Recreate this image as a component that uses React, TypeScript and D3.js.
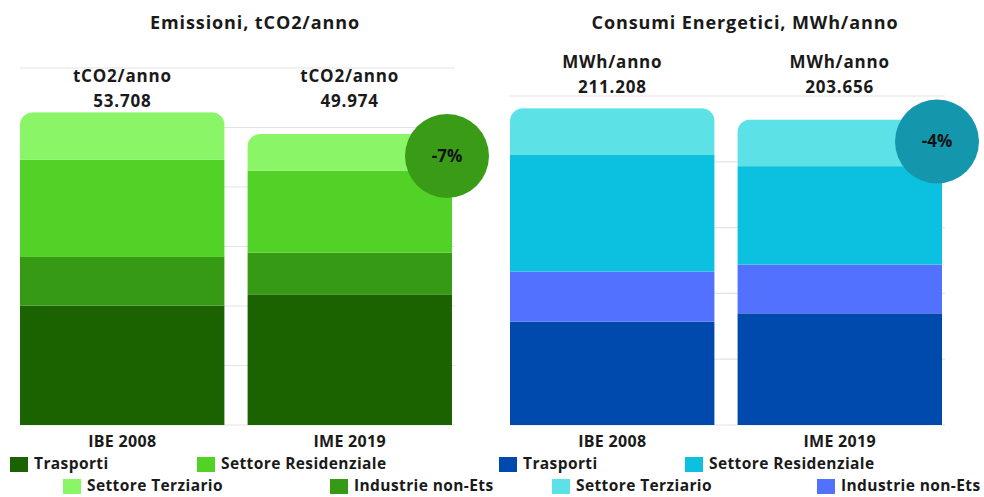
import * as d3 from 'd3'

// categories and series (bottom to top of each stack)
const categories = ['IBE 2008', 'IME 2019']
const sectors = ['Trasporti', 'Industrie non-Ets', 'Settore Residenziale', 'Settore Terziario']

const emissioniTotals = [53708, 49974]
const emissioniTrasporti = [20510, 22437]
const emissioniIndustrie = [8343, 7139]
const emissioniResidenziale = [16686, 14108]
const emissioniTerziario = [8169, 6290]

const consumiTotals = [211208, 203656]
const consumiTrasporti = [68872, 74425]
const consumiIndustrie = [33452, 32477]
const consumiResidenziale = [78055, 65630]
const consumiTerziario = [30829, 31124]

const greenColors = ['#1b6301', '#379a15', '#52d226', '#8af566']
const blueColors = ['#004aad', '#5271ff', '#0cc0df', '#5ce1e6']

const fmt = (v: number) => d3.format(',')(v).replace(/,/g, '.')

interface PanelProps {
    id: string
    title: string
    titleX: number
    unit: string
    totals: number[]
    series: number[][]
    colors: string[]
    x0: number
    x1: number
    top: number
    yMax: number
    gridCount: number
    unitY: number
    badge: string
    badgeColor: string
    legendPos: { x: number; y: number; order: number }[]
}

const FONT = "'Open Sans', 'DejaVu Sans', sans-serif"
const bottom = 425

const Panel = (p: PanelProps) => {
    const x = d3.scaleBand<string>().domain(categories).range([p.x0, p.x1]).paddingInner(0.1).paddingOuter(0)
    const y = d3.scaleLinear().domain([0, p.yMax]).range([bottom, p.top])
    const rows = categories.map((c, i) => {
        const r: Record<string, number | string> = { cat: c }
        sectors.forEach((s, j) => (r[s] = p.series[j][i]))
        return r
    })
    const stacked = d3.stack<Record<string, number | string>>().keys(sectors)(rows as any)
    const grid = d3.range(0, p.gridCount + 1).map(i => (p.yMax * i) / p.gridCount)
    const bw = x.bandwidth()
    const last = categories[categories.length - 1]
    const lastTop = y(p.totals[p.totals.length - 1])

    return (
        <g>
            <defs>
                {categories.map((c, i) => (
                    <clipPath id={`${p.id}-clip-${i}`} key={c}>
                        <rect x={x(c)} y={y(p.totals[i])} width={bw} height={bottom - y(p.totals[i]) + 20} rx={13} />
                    </clipPath>
                ))}
            </defs>
            <text x={p.titleX} y={29} textAnchor="middle" fontFamily={FONT} fontWeight={700} fontSize={18} letterSpacing={0.9} fill="#1a1a1a">
                {p.title}
            </text>
            {grid.map(g => (
                <line key={g} x1={p.x0} x2={p.x1 + 3} y1={y(g)} y2={y(g)} stroke="#e3e3e3" strokeWidth={1.2} />
            ))}
            {categories.map((c, i) => (
                <g key={c} clipPath={`url(#${p.id}-clip-${i})`}>
                    {stacked.map((layer, j) => (
                        <rect
                            key={layer.key}
                            x={x(c)}
                            y={y(layer[i][1])}
                            width={bw}
                            height={y(layer[i][0]) - y(layer[i][1])}
                            fill={p.colors[j]}
                        />
                    ))}
                </g>
            ))}
            {categories.map((c, i) => (
                <g key={c} fontFamily={FONT} fontWeight={700} fontSize={17} letterSpacing={0.8} fill="#1a1a1a" textAnchor="middle">
                    <text x={(x(c) as number) + bw / 2} y={p.unitY}>{p.unit}</text>
                    <text x={(x(c) as number) + bw / 2} y={p.unitY + 25}>{fmt(p.totals[i])}</text>
                    <text x={(x(c) as number) + bw / 2} y={447} fontSize={16} letterSpacing={0.3}>{c}</text>
                </g>
            ))}
            <circle cx={(x(last) as number) + bw - 5} cy={lastTop + 22} r={42} fill={p.badgeColor} />
            <text
                x={(x(last) as number) + bw - 5}
                y={lastTop + 28}
                textAnchor="middle"
                fontFamily={FONT}
                fontWeight={700}
                fontSize={17}
                fill="#111"
            >
                {p.badge}
            </text>
            {p.legendPos.map(l => (
                <g key={l.order}>
                    <rect x={l.x} y={l.y - 12} width={18} height={15} fill={p.colors[l.order]} />
                    <text x={l.x + 24} y={l.y} fontFamily={FONT} fontWeight={700} fontSize={15.5} letterSpacing={0.4} fill="#1a1a1a">
                        {sectors[l.order]}
                    </text>
                </g>
            ))}
        </g>
    )
}

const App = () => {
    return (
        <svg width={984} height={497} style={{ position: 'absolute', left: 0, top: 0, background: '#fff' }}>
            <Panel
                id="emi"
                title="Emissioni, tCO2/anno"
                titleX={255}
                unit="tCO2/anno"
                totals={emissioniTotals}
                series={[emissioniTrasporti, emissioniIndustrie, emissioniResidenziale, emissioniTerziario]}
                colors={greenColors}
                x0={20}
                x1={452}
                top={68}
                yMax={61300}
                gridCount={6}
                unitY={82}
                badge="-7%"
                badgeColor="#3a9b17"
                legendPos={[
                    { x: 10, y: 469, order: 0 },
                    { x: 197, y: 469, order: 2 },
                    { x: 63, y: 491, order: 3 },
                    { x: 330, y: 491, order: 1 },
                ]}
            />
            <Panel
                id="con"
                title="Consumi Energetici, MWh/anno"
                titleX={745}
                unit="MWh/anno"
                totals={consumiTotals}
                series={[consumiTrasporti, consumiIndustrie, consumiResidenziale, consumiTerziario]}
                colors={blueColors}
                x0={510}
                x1={942}
                top={96}
                yMax={219300}
                gridCount={5}
                unitY={68}
                badge="-4%"
                badgeColor="#1497ad"
                legendPos={[
                    { x: 499, y: 469, order: 0 },
                    { x: 685, y: 469, order: 2 },
                    { x: 552, y: 491, order: 3 },
                    { x: 817, y: 491, order: 1 },
                ]}
            />
        </svg>
    )
}

export default App
